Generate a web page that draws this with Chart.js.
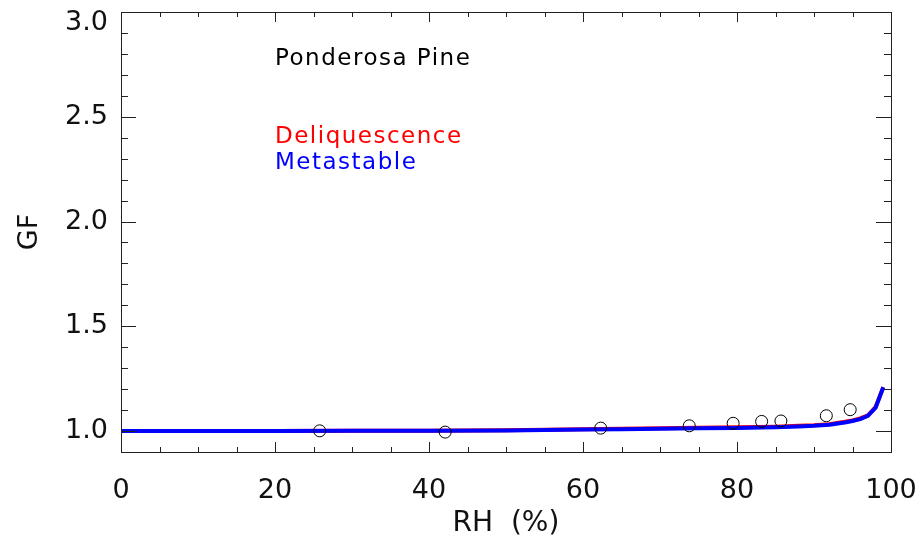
<!DOCTYPE html>
<html lang="en">
<head>
<meta charset="UTF-8">
<script src="https://cdn.jsdelivr.net/npm/chart.js"></script>
<title>GF vs RH</title>
<style>
html, body { margin: 0; padding: 0; background: #fff; }
#wrap { width: 920px; height: 543px; }
</style>
</head>
<body>
<div id="wrap"><canvas id="gfChart" width="920" height="543"></canvas></div>
<script>
// model curves
var rhCurve = [0, 10, 20, 30, 40, 50, 55, 60, 65, 70, 75, 80, 85, 88, 90, 92, 94, 95, 96, 97, 98, 99];
var gfMeta  = [1.000, 1.000, 1.000, 1.001, 1.002, 1.003, 1.005, 1.007, 1.009, 1.011, 1.013, 1.015, 1.018, 1.022, 1.025, 1.030, 1.041, 1.048, 1.057, 1.073, 1.112, 1.209];
var gfDeli  = [1.000, 1.000, 1.000, 1.001, 1.002, 1.004, 1.006, 1.009, 1.011, 1.013, 1.016, 1.018, 1.021, 1.025, 1.028, 1.033, 1.044, 1.051, 1.060, 1.075, 1.114, 1.209];

// measured points
var rhObs = [25.8, 42.1, 62.3, 73.8, 79.5, 83.2, 85.7, 91.6, 94.7];
var gfObs = [1.001, 0.995, 1.014, 1.025, 1.037, 1.046, 1.048, 1.073, 1.102];

var xTicks = [0, 20, 40, 60, 80, 100];
var yTicks = [1.0, 1.5, 2.0, 2.5, 3.0];

var titleText = 'Ponderosa Pine';
var legendNames = ['Deliquescence', 'Metastable'];
var legendColors = ['#ff0000', '#0000ff'];

function pairs(xs, ys) {
	return xs.map(function(x, i) { return { x: x, y: ys[i] }; });
}

var frameTicks = {
	id: 'frameTicks',
	afterDraw: function(chart) {
		var ctx = chart.ctx, a = chart.chartArea;
		var xs = chart.scales.x, ys = chart.scales.y;
		ctx.save();
		ctx.strokeStyle = '#222';
		ctx.lineWidth = 1;
		ctx.strokeRect(Math.round(a.left) + 0.5, Math.round(a.top) + 0.5, Math.round(a.right - a.left), Math.round(a.bottom - a.top));
		ctx.beginPath();
		// x ticks, every 5 with longer ones every 20
		for (var v = 0; v <= 100; v += 5) {
			var px = Math.round(xs.getPixelForValue(v)) + 0.5;
			var len = v % 20 === 0 ? 10 : 5;
			ctx.moveTo(px, a.bottom); ctx.lineTo(px, a.bottom - len);
			ctx.moveTo(px, a.top); ctx.lineTo(px, a.top + len);
		}
		// y ticks, every 0.1 with longer ones every 0.5
		for (var k = 10; k <= 30; k++) {
			var py = Math.round(ys.getPixelForValue(k / 10)) + 0.5;
			var l2 = k % 5 === 0 ? 15 : 7;
			ctx.moveTo(a.left, py); ctx.lineTo(a.left + l2, py);
			ctx.moveTo(a.right, py); ctx.lineTo(a.right - l2, py);
		}
		ctx.stroke();

		// text notes
		ctx.font = '23px "DejaVu Sans"';
		ctx.letterSpacing = '1.5px';
		ctx.textBaseline = 'middle';
		ctx.textAlign = 'left';
		var tx = xs.getPixelForValue(20);
		ctx.fillStyle = '#000';
		ctx.fillText(titleText, tx, ys.getPixelForValue(2.775));
		ctx.fillStyle = legendColors[0];
		ctx.fillText(legendNames[0], tx, ys.getPixelForValue(2.403));
		ctx.fillStyle = legendColors[1];
		ctx.fillText(legendNames[1], tx, ys.getPixelForValue(2.280));
		ctx.restore();
	}
};

var ctx = document.getElementById('gfChart').getContext('2d');
var gfChart = new Chart(ctx, {
	type: 'scatter',
	data: {
		datasets: [{
			label: 'Measured',
			data: pairs(rhObs, gfObs),
			showLine: false,
			pointStyle: 'circle',
			pointRadius: 6,
			pointBorderWidth: 1,
			pointBorderColor: '#000',
			pointBackgroundColor: 'rgba(0,0,0,0)'
		}, {
			label: legendNames[1],
			data: pairs(rhCurve, gfMeta),
			showLine: true,
			borderColor: legendColors[1],
			borderWidth: 4,
			pointRadius: 0,
			tension: 0
		}, {
			label: legendNames[0],
			data: pairs(rhCurve, gfDeli),
			showLine: true,
			borderColor: legendColors[0],
			borderWidth: 4,
			pointRadius: 0,
			tension: 0
		}]
	},
	options: {
		responsive: false,
		animation: false,
		devicePixelRatio: 1,
		layout: { padding: { top: 12, right: 29, left: 0, bottom: 0 } },
		plugins: {
			legend: { display: false },
			tooltip: { enabled: false }
		},
		scales: {
			x: {
				type: 'linear',
				min: 0,
				max: 100,
				afterFit: function(s) { s.height = 91; s.paddingLeft = 0; s.paddingRight = 0; },
				afterBuildTicks: function(s) { s.ticks = xTicks.map(function(v) { return { value: v }; }); },
				grid: { display: false, drawTicks: false, tickLength: 0 },
				border: { display: false },
				ticks: {
					padding: 23,
					color: '#111',
					font: { family: 'DejaVu Sans', size: 27 },
					maxRotation: 0,
					callback: function(v) { return v; }
				},
				title: {
					display: true,
					text: 'RH  (%)',
					color: '#111',
					font: { family: 'DejaVu Sans', size: 28 },
					padding: { top: 0, bottom: 2 }
				}
			},
			y: {
				type: 'linear',
				min: 0.9,
				max: 3.0,
				afterFit: function(s) { s.width = 121; s.paddingTop = 0; s.paddingBottom = 0; },
				afterBuildTicks: function(s) { s.ticks = yTicks.map(function(v) { return { value: v }; }); },
				grid: { display: false, drawTicks: false, tickLength: 0 },
				border: { display: false },
				ticks: {
					padding: 13,
					color: '#111',
					font: function(c) {
						// top label sits a bit lower, inside the frame
						var top = c.tick && c.tick.value === 3;
						return { family: 'DejaVu Sans', size: 27, lineHeight: top ? '22px' : 1.2 };
					},
					callback: function(v) { return v === 3 ? ['', v.toFixed(1)] : v.toFixed(1); }
				},
				title: {
					display: true,
					text: 'GF',
					color: '#111',
					font: { family: 'DejaVu Sans', size: 27 },
					padding: { top: 14, bottom: 0 }
				}
			}
		}
	},
	plugins: [frameTicks]
});
</script>
</body>
</html>
